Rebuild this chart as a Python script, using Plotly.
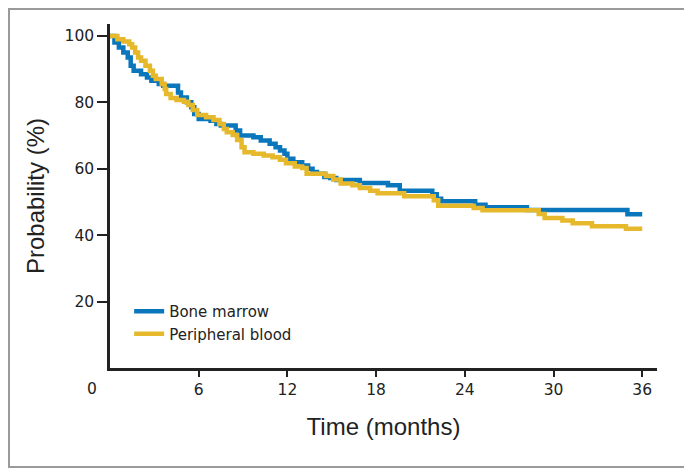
import plotly.graph_objects as go

# Kaplan-Meier step data (months, probability %)
bm_time = [0, 0.3, 0.6, 0.9, 1.2, 1.4, 1.6, 2.1, 2.5, 2.8, 3.3, 3.6, 4.6, 4.8, 5.2, 5.5, 5.7, 6.0,
           6.8, 7.2, 7.5, 8.5, 8.8, 9.7, 10.2, 10.8, 11.2, 11.5, 11.8, 12.0, 12.4, 13.0, 13.4, 13.7,
           14.0, 14.5, 14.9, 15.3, 16.9, 18.8, 19.6, 21.8, 22.1, 22.4, 24.7, 25.4, 28.2, 35.0, 36.0]
bm_surv = [100, 98, 96.5, 95, 93.5, 91, 89.5, 88.5, 87.5, 86.5, 85.5, 85, 83, 81.5, 80, 78.5, 76.5, 75,
           74.5, 73.5, 73, 71.5, 70, 69.5, 68.5, 67.5, 66.5, 65.5, 64.5, 63, 62, 61, 60, 59,
           58.5, 57.5, 57.2, 56.6, 55.7, 55.0, 53.4, 52.3, 51.0, 50.2, 49.2, 48.4, 47.6, 46.3, 46.3]

pb_time = [0, 0.5, 0.9, 1.3, 1.5, 1.7, 1.9, 2.1, 2.4, 2.7, 2.9, 3.1, 3.5, 3.7, 3.8, 4.1, 4.5, 5.0,
           5.3, 5.6, 5.9, 6.5, 7.0, 7.4, 7.7, 7.9, 8.3, 8.6, 8.9, 9.1, 9.7, 10.4, 11.0, 11.5, 11.9,
           12.5, 13.0, 13.3, 14.6, 15.1, 15.6, 16.4, 16.9, 17.6, 18.1, 19.9, 21.9, 22.2, 24.6, 25.2,
           29.0, 29.4, 30.6, 31.3, 32.6, 34.9, 36.0]
pb_surv = [100, 99, 98.3, 97.5, 96.5, 95, 93.5, 92.5, 91, 89.5, 88, 87, 85.5, 84, 82.5, 81.3, 80.7, 80.2,
           79.2, 77.7, 76.2, 75.5, 74.7, 73.5, 72, 71, 70.2, 68.7, 66.5, 65, 64.5, 64.0, 63.5, 62.7, 61.7,
           60.7, 60.2, 58.5, 57.8, 56.8, 55.6, 55.0, 54.2, 53.4, 52.6, 51.7, 50.5, 48.9, 48.2, 47.5,
           46.4, 45.2, 44.4, 43.6, 42.7, 41.9, 41.9]

x_ticks = [6, 12, 18, 24, 30, 36]
y_ticks = [20, 40, 60, 80, 100]

BLUE = "#0a77bd"
YELLOW = "#e6b82c"
TICKFONT = dict(family="DejaVu Sans, sans-serif", size=15.5, color="#222")
TITLEFONT = dict(family="Liberation Sans, Arial, sans-serif", size=24, color="#222")

fig = go.Figure()
fig.add_trace(go.Scatter(x=bm_time, y=bm_surv, mode="lines", line_shape="hv",
                         line=dict(color=BLUE, width=4.5), name="Bone marrow"))
fig.add_trace(go.Scatter(x=pb_time, y=pb_surv, mode="lines", line_shape="hv",
                         line=dict(color=YELLOW, width=4.5), name="Peripheral blood"))

# page has an 8px body margin: figure is 684x460, placed at (8, 8)
fig.update_layout(
    width=684, height=460,
    margin=dict(l=102, r=35, t=16, b=100),
    plot_bgcolor="white", paper_bgcolor="white",
    showlegend=True,
    legend=dict(x=0.035, y=0.212, xanchor="left", yanchor="top",
                font=dict(family="DejaVu Sans, sans-serif", size=15, color="#222"),
                bgcolor="rgba(0,0,0,0)", itemwidth=30, tracegroupgap=0),
    xaxis=dict(range=[0, 37.0], tickvals=x_ticks, ticktext=[str(v) for v in x_ticks],
               showgrid=False, zeroline=False, showline=True, linecolor="#222", linewidth=2.5,
               ticks="outside", ticklen=6, tickwidth=1.5, tickcolor="#222",
               tickfont=TICKFONT,
               title=dict(text="Time (months)", standoff=20, font=TITLEFONT)),
    yaxis=dict(range=[0, 103.6], tickvals=y_ticks, ticktext=[str(v) for v in y_ticks],
               showgrid=False, zeroline=False, showline=True, linecolor="#222", linewidth=2.5,
               ticks="outside", ticklen=10, tickwidth=1.5, tickcolor="#222",
               tickfont=TICKFONT,
               title=dict(text="Probability (%)", standoff=14, font=TITLEFONT)),
    annotations=[dict(text="0", x=0, y=0, xref="x", yref="paper", xanchor="center", yanchor="top",
                      xshift=-18, yshift=-10, showarrow=False, font=TICKFONT)],
    shapes=[dict(type="rect", xref="paper", yref="paper",
                 x0=(1 - 102) / 547, x1=(683 - 102) / 547,
                 y0=(360 - 459) / 344, y1=(360 - 1) / 344,
                 line=dict(color="#9a9a9a", width=2), layer="below")],
)

fig.write_html("out.html")
